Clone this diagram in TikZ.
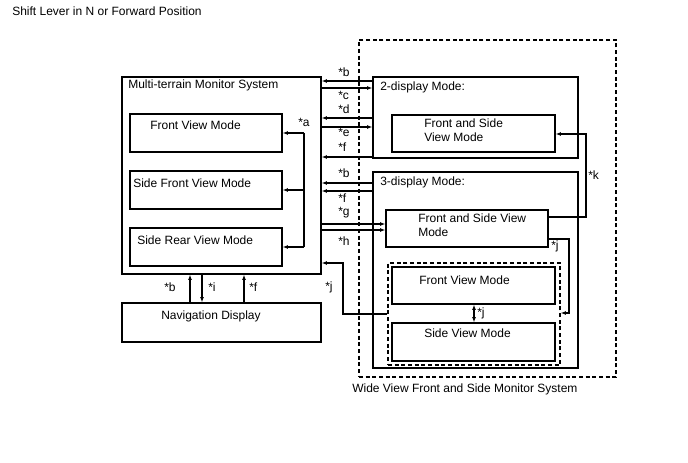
\documentclass[tikz,border=0pt]{standalone}
\usepackage{fontspec}
\setmainfont{Liberation Sans}
\usetikzlibrary{arrows.meta,fit}
\begin{document}
\begin{tikzpicture}[x=0.75pt,y=-0.75pt,
  box/.style={draw,line width=0.9pt,inner sep=0pt},
  dbox/.style={draw,line width=0.9pt,inner sep=0pt,dash pattern=on 3pt off 2pt},
  lbl/.style={font=\fontsize{9}{10.5}\selectfont,inner sep=0pt,anchor=west,align=left},
  ln/.style={line width=0.9pt},
  arr/.style={line width=0.9pt,-{Latex[length=4pt,width=3pt]}},
  darr/.style={line width=0.9pt,{Latex[length=4pt,width=3pt]}-{Latex[length=4pt,width=3pt]}}]
\useasboundingbox (0,0) rectangle (688,463);
\node[lbl] (title) at (12,11) {Shift Lever in N or Forward Position};
% Multi-terrain
\node[box,fit={(122,77)(321,274)}] (mts) {};
\node[lbl] (mtsl) at (128,85) {Multi-terrain Monitor System};
\node[box,fit={(130,114)(282,152)}] (fv) {};
\node[lbl] at (150,125) {Front View Mode};
\node[box,fit={(130,171)(282,209)}] (sfv) {};
\node[lbl] at (133,183) {Side Front View Mode};
\node[box,fit={(130,228)(282,266)}] (srv) {};
\node[lbl] at (137,240) {Side Rear View Mode};
\coordinate (abar1) at (304,133);
\coordinate (abar3) at (304,247);
\draw[ln] (abar1) -- (abar3);
\draw[arr] (abar1) -- (fv.east |- abar1);
\draw[arr] (304,190) -- (sfv.east |- 0,190);
\draw[arr] (abar3) -- (srv.east |- abar3);
\node[lbl] at (298,122) {*a};
% Wide view
\node[dbox,fit={(359,40)(616,377)}] (wv) {};
\node[lbl] at (352,389) {Wide View Front and Side Monitor System};
\node[box,fit={(373,77)(578,158)}] (two) {};
\node[lbl] at (380,87) {2-display Mode:};
\node[box,fit={(392,115)(555,152)}] (fs2) {};
\node[lbl] at (424,130) {Front and Side\\View Mode};
\node[box,fit={(373,172)(578,368)}] (three) {};
\node[lbl] at (380,182) {3-display Mode:};
\node[box,fit={(386,210)(548,247)}] (fs3) {};
\node[lbl] at (418,225) {Front and Side View\\Mode};
\node[dbox,fit={(388,263)(560,365)}] (inner) {};
\node[box,fit={(392,267)(555,304)}] (fvi) {};
\node[lbl] at (419,280) {Front View Mode};
\node[box,fit={(392,323)(555,361)}] (svi) {};
\node[lbl] at (424,333) {Side View Mode};
\draw[darr] (fvi.south -| 474,0) -- (svi.north -| 474,0);
\node[lbl] at (477,313) {*j};
% Navigation
\node[box,fit={(122,303)(321,342)}] (nav) {};
\node[lbl] at (161,316) {Navigation Display};
\draw[arr] (nav.north -| 190,0) -- (mts.south -| 190,0);
\draw[arr] (mts.south -| 202,0) -- (nav.north -| 202,0);
\draw[arr] (nav.north -| 244,0) -- (mts.south -| 244,0);
\node[lbl] at (164,287) {*b};
\node[lbl] at (208,287) {*i};
\node[lbl] at (249,287) {*f};
% 2-display connectors
\draw[arr] (two.west |- 0,81) -- (mts.east |- 0,81);
\draw[arr] (mts.east |- 0,88) -- (two.west |- 0,88);
\draw[arr] (two.west |- 0,118) -- (mts.east |- 0,118);
\draw[arr] (mts.east |- 0,127) -- (two.west |- 0,127);
\draw[arr] (two.west |- 0,157) -- (mts.east |- 0,157);
\node[lbl] at (338,72) {*b};
\node[lbl] at (338,95) {*c};
\node[lbl] at (338,109) {*d};
\node[lbl] at (338,132) {*e};
\node[lbl] at (338,147) {*f};
% 3-display connectors
\draw[arr] (three.west |- 0,183) -- (mts.east |- 0,183);
\draw[arr] (three.west |- 0,191) -- (mts.east |- 0,191);
\draw[arr] (mts.east |- 0,224) -- (fs3.west |- 0,224);
\draw[arr] (mts.east |- 0,230) -- (fs3.west |- 0,230);
\node[lbl] at (338,173) {*b};
\node[lbl] at (338,198) {*f};
\node[lbl] at (338,213) {*g};
\node[lbl] at (338,241) {*h};
% *j left
\draw[arr] (inner.west |- 0,314) -- (343,314) -- (343,263) -- (mts.east |- 0,263);
\node[lbl] at (325,287) {*j};
% *k
\draw[arr] (fs3.east |- 0,217) -- (586,217) -- (586,134) -- (fs2.east |- 0,134);
\node[lbl] at (588,175) {*k};
% *j right
\draw[arr] (fs3.east |- 0,239) -- (569,239) -- (569,313) -- (inner.east |- 0,313);
\node[lbl] at (551,246) {*j};
\end{tikzpicture}
\end{document}
